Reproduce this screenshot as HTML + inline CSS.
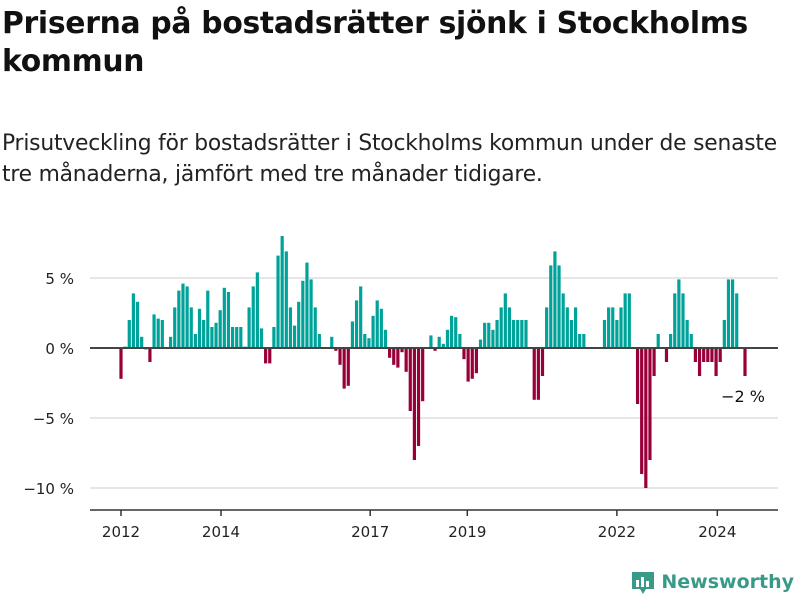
<!DOCTYPE html>
<html><head><meta charset="utf-8">
<style>
body{margin:0;width:800px;height:600px;background:#fff;font-family:"Liberation Sans","DejaVu Sans",sans-serif;overflow:hidden;position:relative;color:#111}
h1{position:absolute;left:2px;top:5px;margin:0;font-size:29.8px;line-height:38px;font-weight:bold;font-family:"DejaVu Sans","Liberation Sans",sans-serif;letter-spacing:-0.3px}
p.sub{position:absolute;left:2px;top:128px;margin:0;font-size:21.8px;line-height:31px;font-family:"DejaVu Sans","Liberation Sans",sans-serif;color:#222;letter-spacing:-0.2px;white-space:nowrap}
svg{position:absolute;left:0;top:0}
.logo{position:absolute;right:6px;top:569px;font-size:19px;font-weight:bold;color:#3a9a8a;font-family:"DejaVu Sans",sans-serif;display:flex;align-items:center;gap:6px}
</style></head><body>
<h1>Priserna på bostadsrätter sjönk i Stockholms<br>kommun</h1>
<p class="sub">Prisutveckling för bostadsrätter i Stockholms kommun under de senaste<br>tre månaderna, jämfört med tre månader tidigare.</p>
<svg id="chart" width="800" height="600"></svg>
<div class="logo">
<svg width="24" height="26" style="position:static"><path d="M1 3h22v17h-8l-3 5-3-5H1z" fill="#3a9a8a"/><rect x="5" y="11" width="3" height="7" fill="#fff"/><rect x="10" y="8" width="3" height="10" fill="#fff"/><rect x="15" y="12" width="3" height="6" fill="#fff"/></svg>
<span>Newsworthy</span></div>
<script>
const values=[-2.2,0.1,2.0,3.9,3.3,0.8,-0.1,-1.0,2.4,2.1,2.0,0,0.8,2.9,4.1,4.6,4.4,2.9,1.0,2.8,2.0,4.1,1.5,1.8,2.7,4.3,4.0,1.5,1.5,1.5,0.1,2.9,4.4,5.4,1.4,-1.1,-1.1,1.5,6.6,
8.0,6.9,2.9,1.6,3.3,4.8,6.1,4.9,2.9,1.0,0,0,0.8,-0.2,-1.2,-2.9,-2.7,1.9,3.4,4.4,1.0,0.7,2.3,3.4,2.8,1.3,-0.7,-1.2,-1.4,-0.3,-1.7,-4.5,-8.0,-7.0,-3.8,0,0.9,-0.2,0.8,0.3,1.3,2.3,2.2,1.0,-0.8,-2.4,-2.2,-1.8,0.6,1.8,1.8,1.3,2.0,2.9,3.9,2.9,2.0,2.0,2.0,2.0,0,-3.7,-3.7,-2.0,2.9,5.9,6.9,5.9,3.9,2.9,2.0,2.9,1.0,1.0,0,0,0,0,
2.0,2.9,2.9,2.0,2.9,3.9,3.9,0,-4.0,-9.0,-10.0,-8.0,-2.0,1.0,0,-1.0,1.0,3.9,4.9,3.9,2.0,1.0,-1.0,-2.0,-1.0,-1.0,-1.0,-2.0,-1.0,2.0,4.9,4.9,3.9,0,-2.0];
const yTicks=[5,0,-5,-10];
const yTickLabels=["5 %","0 %","−5 %","−10 %"];
const xTickLabels=["2012","2014","2017","2019","2022","2024"];
const xTickIndex=[0,24.2,60.3,83.8,120,144.3];
const lastLabel="−2 %";
const NS="http://www.w3.org/2000/svg";
const svg=document.getElementById('chart');
const x0=121,x1=745,n=values.length,step=(x1-x0)/(n-1);
const xs=i=>x0+i*step;
const ys=v=>348-v*14;
function mk(t,a){const e=document.createElementNS(NS,t);for(const k in a)e.setAttribute(k,a[k]);svg.appendChild(e);return e;}
yTicks.forEach((t,i)=>{
  if(t!==0){const g=mk('line',{x1:90,x2:778,y1:ys(t),y2:ys(t),stroke:'#ddd','stroke-width':1.5});
  
  }
  const l=mk('text',{x:74,y:ys(t)+6,'text-anchor':'end','font-size':15,fill:'#222','font-family':'DejaVu Sans,sans-serif'});
  l.textContent=yTickLabels[i];
  
  
});
values.forEach((v,i)=>{
  if(v===0)return;
  const y=Math.min(ys(v),ys(0));
  const r=mk('rect',{x:xs(i)-1.6,y:y,width:3.2,height:Math.abs(ys(v)-ys(0)),fill:v>0?'#00a39a':'#99003a'});
  
  
});
const z=mk('line',{x1:90,x2:778,y1:ys(0),y2:ys(0),stroke:'#444','stroke-width':2});


const ax=mk('line',{x1:90,x2:778,y1:510,y2:510,stroke:'#333','stroke-width':1.5});


xTickLabels.forEach((lab,i)=>{
  const px=xs(xTickIndex[i]);
  const tk=mk('line',{x1:px,x2:px,y1:510,y2:516,stroke:'#333','stroke-width':1.5});
  
  
  const t=mk('text',{x:px,y:537,'text-anchor':'middle','font-size':15,fill:'#222','font-family':'DejaVu Sans,sans-serif'});
  t.textContent=lab;
  
  
});
const ll=mk('text',{x:765,y:402,'text-anchor':'end','font-size':16,fill:'#111','font-family':'DejaVu Sans,sans-serif'});
ll.textContent=lastLabel;


</script>
</body></html>
